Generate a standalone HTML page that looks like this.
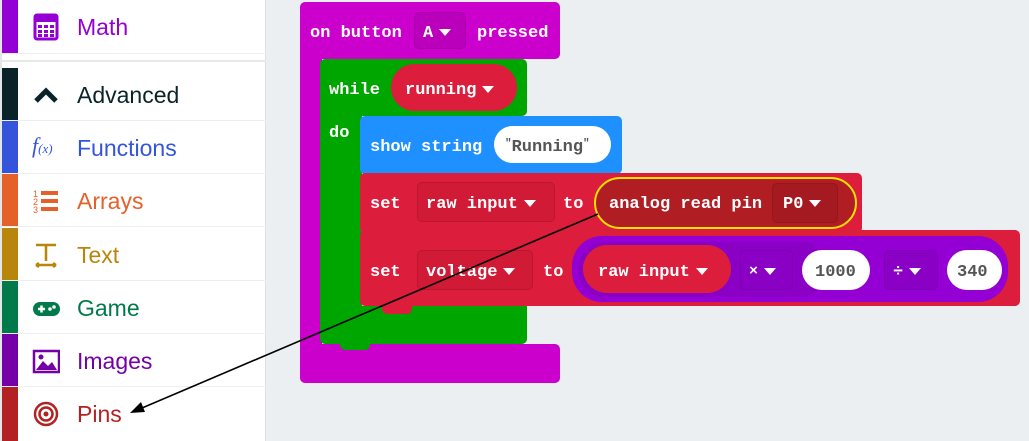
<!DOCTYPE html>
<html><head><style>
*{margin:0;padding:0;box-sizing:border-box}
body{width:1029px;height:441px;overflow:hidden;background:#eceff1;position:relative;font-family:"Liberation Sans",sans-serif}
.a{position:absolute}
.side{left:0;top:0;width:266px;height:441px;background:#fff;border-left:2px solid #e4e6e8;border-right:1px solid #e0e0e0}
.row{position:absolute;left:0;width:264px;height:53px;border-bottom:1px solid #eceef0}
.bar{position:absolute;left:0;top:0;width:16px;height:100%}
.lab{position:absolute;left:75px;top:14px;font-size:23px}
.ic{position:absolute;left:30px;top:13px;width:28px;height:28px}
.b{position:absolute;font-family:"Liberation Mono",monospace;font-weight:bold;font-size:17px;color:#fff;white-space:pre;margin-top:2px}
.blk{position:absolute;border-radius:5px}
.pill{position:absolute;border-radius:30px}
.tri{display:inline-block;width:0;height:0;border-left:6px solid transparent;border-right:6px solid transparent;border-top:7px solid #fff;vertical-align:middle;margin-left:6px}
</style></head><body>
<div class="a side">
 <div class="row" style="top:0;height:54px"><div class="bar" style="background:#9400d3"></div>
  <svg class="ic" viewBox="0 0 28 28"><rect x="3" y="2" width="22" height="24" rx="2" fill="none" stroke="#9400d3" stroke-width="3"/><rect x="3" y="2" width="22" height="7" fill="#9400d3"/><g fill="#9400d3"><rect x="6" y="12" width="4" height="3"/><rect x="12" y="12" width="4" height="3"/><rect x="18" y="12" width="4" height="3"/><rect x="6" y="17" width="4" height="3"/><rect x="12" y="17" width="4" height="3"/><rect x="18" y="17" width="4" height="3"/><rect x="6" y="21" width="4" height="3"/><rect x="12" y="21" width="4" height="3"/><rect x="18" y="21" width="4" height="3"/></g></svg>
  <div class="lab" style="color:#9400d3">Math</div></div>
 <div class="a" style="left:0;top:60px;width:264px;height:2px;background:#e6e8ea"></div>
 <div class="row" style="top:68px"><div class="bar" style="background:#0a2329"></div>
  <svg class="ic" viewBox="0 0 28 28"><path d="M4 20 L14 10 L24 20" fill="none" stroke="#0a2329" stroke-width="5"/></svg>
  <div class="lab" style="color:#0a2329">Advanced</div></div>
 <div class="row" style="top:121px"><div class="bar" style="background:#3455db"></div>
  <div class="ic" style="color:#3455db;font-family:'Liberation Serif',serif;font-style:italic;font-size:22px;top:12px">f<span style="font-size:13px">(x)</span></div>
  <div class="lab" style="color:#3455db">Functions</div></div>
 <div class="row" style="top:174px"><div class="bar" style="background:#e6602a"></div>
  <svg class="ic" viewBox="0 0 28 28"><g fill="#e6602a"><rect x="9" y="4" width="17" height="4"/><rect x="9" y="12" width="17" height="4"/><rect x="9" y="20" width="17" height="4"/><text x="1" y="10" font-size="9" font-family="Liberation Sans">1</text><text x="1" y="18" font-size="9" font-family="Liberation Sans">2</text><text x="1" y="26" font-size="9" font-family="Liberation Sans">3</text></g></svg>
  <div class="lab" style="color:#e6602a">Arrays</div></div>
 <div class="row" style="top:228px"><div class="bar" style="background:#b8860b"></div>
  <svg class="ic" viewBox="0 0 28 28"><path d="M4 4h20M14 4v16M4 24h20M4 24l3-2M4 24l3 2M24 24l-3-2M24 24l-3 2" stroke="#b8860b" stroke-width="2.5" fill="none"/></svg>
  <div class="lab" style="color:#b8860b">Text</div></div>
 <div class="row" style="top:281px"><div class="bar" style="background:#007a4b"></div>
  <svg class="ic" viewBox="0 0 28 28"><rect x="1" y="8" width="27" height="14" rx="7" fill="#007a4b"/><path d="M6 15h7M9.5 11.5v7" stroke="#fff" stroke-width="2.5"/><circle cx="18" cy="15" r="1.8" fill="#fff"/><circle cx="22" cy="13" r="1.8" fill="#fff"/></svg>
  <div class="lab" style="color:#007a4b">Game</div></div>
 <div class="row" style="top:334px"><div class="bar" style="background:#7600a8"></div>
  <svg class="ic" viewBox="0 0 28 28"><rect x="2" y="4" width="25" height="21" fill="none" stroke="#7600a8" stroke-width="2.5"/><path d="M4 23 L11 14 L16 19 L20 15 L25 23Z" fill="#7600a8"/><circle cx="9" cy="10" r="2.5" fill="#7600a8"/></svg>
  <div class="lab" style="color:#7600a8">Images</div></div>
 <div class="row" style="top:387px;height:54px;border:none"><div class="bar" style="background:#b22222"></div>
  <svg class="ic" viewBox="0 0 28 28"><circle cx="14" cy="14" r="11" fill="none" stroke="#b22222" stroke-width="2.5"/><circle cx="14" cy="14" r="6.5" fill="none" stroke="#b22222" stroke-width="2.5"/><circle cx="14" cy="14" r="2.5" fill="#b22222"/></svg>
  <div class="lab" style="color:#b22222">Pins</div></div>
</div>

<div class="blk" style="left:300px;top:2px;width:260px;height:57px;background:#cc00cc"></div>
<div class="a" style="left:300px;top:40px;width:22px;height:320px;background:#cc00cc;border-radius:5px 0 0 5px"></div>
<div class="blk" style="left:300px;top:344px;width:260px;height:39px;background:#cc00cc"></div>
<div class="b" style="left:310px;top:22px">on button</div>
<div class="blk" style="left:414px;top:12px;width:52px;height:37px;background:#bb00bb;border:1px solid #a800a8"></div>
<div class="b" style="left:423px;top:22px">A<span class="tri"></span></div>
<div class="b" style="left:477px;top:22px">pressed</div>

<div class="blk" style="left:320px;top:59px;width:207px;height:57px;background:#00a600"></div>
<div class="a" style="left:320px;top:100px;width:42px;height:220px;background:#00a600"></div>
<div class="blk" style="left:320px;top:306px;width:207px;height:38px;background:#00a600;border-radius:0 0 5px 5px"></div>
<div class="a" style="left:340px;top:344px;width:30px;height:6px;background:#00a600;border-radius:0 0 5px 5px"></div>
<div class="b" style="left:329px;top:79px">while</div>
<div class="pill" style="left:391px;top:64px;width:126px;height:47px;background:#dc1e3c"></div>
<div class="b" style="left:405px;top:79px">running<span class="tri"></span></div>
<div class="b" style="left:329px;top:122px">do</div>

<div class="blk" style="left:360px;top:116px;width:262px;height:58px;background:#1e90ff"></div>
<div class="b" style="left:370px;top:136px">show string</div>
<div class="pill" style="left:494px;top:126px;width:117px;height:37px;background:#fff"></div>
<div class="b" style="left:505px;top:136px;color:#555"><span style="font-size:11px;vertical-align:top">"</span>Running<span style="font-size:11px;vertical-align:top">"</span></div>

<div class="blk" style="left:360px;top:173px;width:502px;height:60px;background:#dc1e3c"></div>
<div class="b" style="left:370px;top:193px">set</div>
<div class="blk" style="left:417px;top:182px;width:138px;height:40px;background:#d01a36;border:1px solid #bb1530"></div>
<div class="b" style="left:426px;top:193px">raw input<span class="tri"></span></div>
<div class="b" style="left:563px;top:193px">to</div>
<div class="pill" style="left:594px;top:177px;width:263px;height:52px;background:#b01e24;border:2px solid #ffe100"></div>
<div class="blk" style="left:772px;top:183px;width:66px;height:40px;background:#a51a20;border:1px solid #951518"></div>
<div class="b" style="left:609px;top:193px">analog read pin</div>
<div class="b" style="left:783px;top:193px">P0<span class="tri"></span></div>

<div class="blk" style="left:360px;top:230px;width:660px;height:76px;background:#dc1e3c"></div>
<div class="a" style="left:382px;top:304px;width:30px;height:10px;background:#dc1e3c;border-radius:0 0 5px 5px"></div>
<div class="b" style="left:370px;top:261px">set</div>
<div class="blk" style="left:417px;top:250px;width:116px;height:40px;background:#d01a36;border:1px solid #bb1530"></div>
<div class="b" style="left:426px;top:261px">voltage<span class="tri"></span></div>
<div class="b" style="left:543px;top:261px">to</div>
<div class="pill" style="left:572px;top:236px;width:436px;height:66px;background:#9400d3"></div>
<div class="pill" style="left:578px;top:242px;width:250px;height:55px;background:#8a00c4"></div>
<div class="pill" style="left:583px;top:245px;width:148px;height:48px;background:#dc1e3c"></div>
<div class="b" style="left:598px;top:261px">raw input<span class="tri"></span></div>
<div class="blk" style="left:740px;top:250px;width:53px;height:40px;background:#8a00c4;border:1px solid #8000b5"></div>
<div class="b" style="left:749px;top:261px;font-size:15px">×<span class="tri"></span></div>
<div class="pill" style="left:802px;top:250px;width:68px;height:40px;background:#fff"></div>
<div class="b" style="left:815px;top:261px;color:#555">1000</div>
<div class="blk" style="left:884px;top:250px;width:54px;height:40px;background:#8a00c4;border:1px solid #8000b5"></div>
<div class="b" style="left:893px;top:261px">÷<span class="tri"></span></div>
<div class="pill" style="left:947px;top:250px;width:55px;height:40px;background:#fff"></div>
<div class="b" style="left:957px;top:261px;color:#555">340</div>

<svg class="a" style="left:0;top:0" width="1029" height="441">
<line x1="598" y1="214" x2="142" y2="408" stroke="#000" stroke-width="1.6"/>
<polygon points="130,413 141,402 145,412" fill="#000"/>
</svg>
</body></html>
